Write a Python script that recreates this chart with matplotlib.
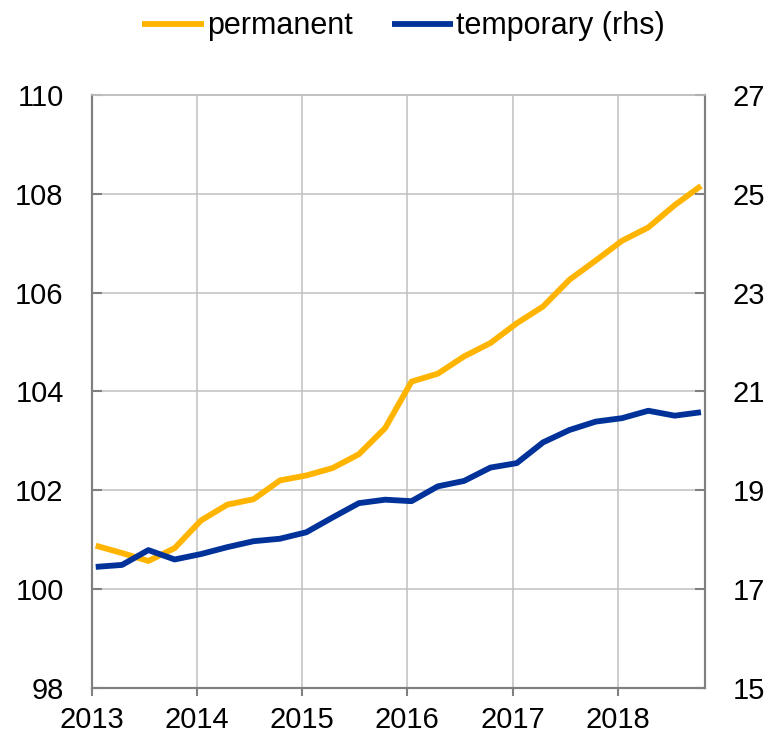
import numpy as np
import matplotlib
matplotlib.use('Agg')
import matplotlib.pyplot as plt

plt.rcParams['font.family'] = ['Liberation Sans', 'DejaVu Sans']

# quarterly observations, 2013Q1 - 2018Q4
years = [2013, 2014, 2015, 2016, 2017, 2018]
permanent = [100.88, 100.73, 100.57, 100.83, 101.39, 101.71, 101.82, 102.20,
             102.30, 102.45, 102.73, 103.26, 104.20, 104.36, 104.71, 104.98,
             105.38, 105.72, 106.26, 106.65, 107.05, 107.32, 107.77, 108.16]
temporary = [17.45, 17.49, 17.79, 17.60, 17.71, 17.85, 17.97, 18.02,
             18.15, 18.45, 18.74, 18.81, 18.78, 19.08, 19.19, 19.46,
             19.55, 19.97, 20.22, 20.39, 20.46, 20.61, 20.51, 20.58]

x = 2013.04 + 0.25 * np.arange(len(permanent))

yellow = '#FFB400'
blue = '#003299'
grid_c = '#C0C0C0'
spine_c = '#808080'
fs = 21

fig = plt.figure(figsize=(7.69, 7.38), dpi=100)
ax = fig.add_axes([0.119, 0.0678, 0.798, 0.8035])
ax2 = ax.twinx()

l1, = ax.plot(x, permanent, color=yellow, lw=4.2, solid_capstyle='butt', label='permanent')
l2, = ax2.plot(x, temporary, color=blue, lw=4.2, solid_capstyle='butt', label='temporary (rhs)')

ax.set_xlim(2013, 2018.83)
ax.set_ylim(98, 110)
ax.set_yticks(np.arange(98, 111, 2))
ax2.set_ylim(15, 27)
ax2.set_yticks(np.arange(15, 28, 2))
ax.set_xticks(years)
ax.set_xticklabels([str(y) for y in years])

ax.grid(True, color=grid_c, lw=1.1)
ax.set_axisbelow(True)

for a in (ax, ax2):
    for s in ['left', 'right', 'bottom']:
        a.spines[s].set_color(spine_c)
        a.spines[s].set_linewidth(1.5)
    a.spines['top'].set_color(grid_c)
    a.spines['top'].set_linewidth(1.1)

ax.tick_params(axis='y', direction='in', length=7, width=1.5, color=spine_c,
               labelsize=fs, pad=20)
ax2.tick_params(axis='y', direction='in', length=7, width=1.5, color=spine_c,
                labelsize=fs, pad=20)
ax.tick_params(axis='x', direction='out', length=6, width=1.5, color=spine_c,
               labelsize=fs, pad=7)

fig.legend(handles=[l1, l2], loc='upper center', bbox_to_anchor=(0.525, 1.022),
           ncol=2, frameon=False, fontsize=22, handlelength=2.0,
           handletextpad=0.1, columnspacing=1.3)

plt.savefig('out.png', dpi=100)
